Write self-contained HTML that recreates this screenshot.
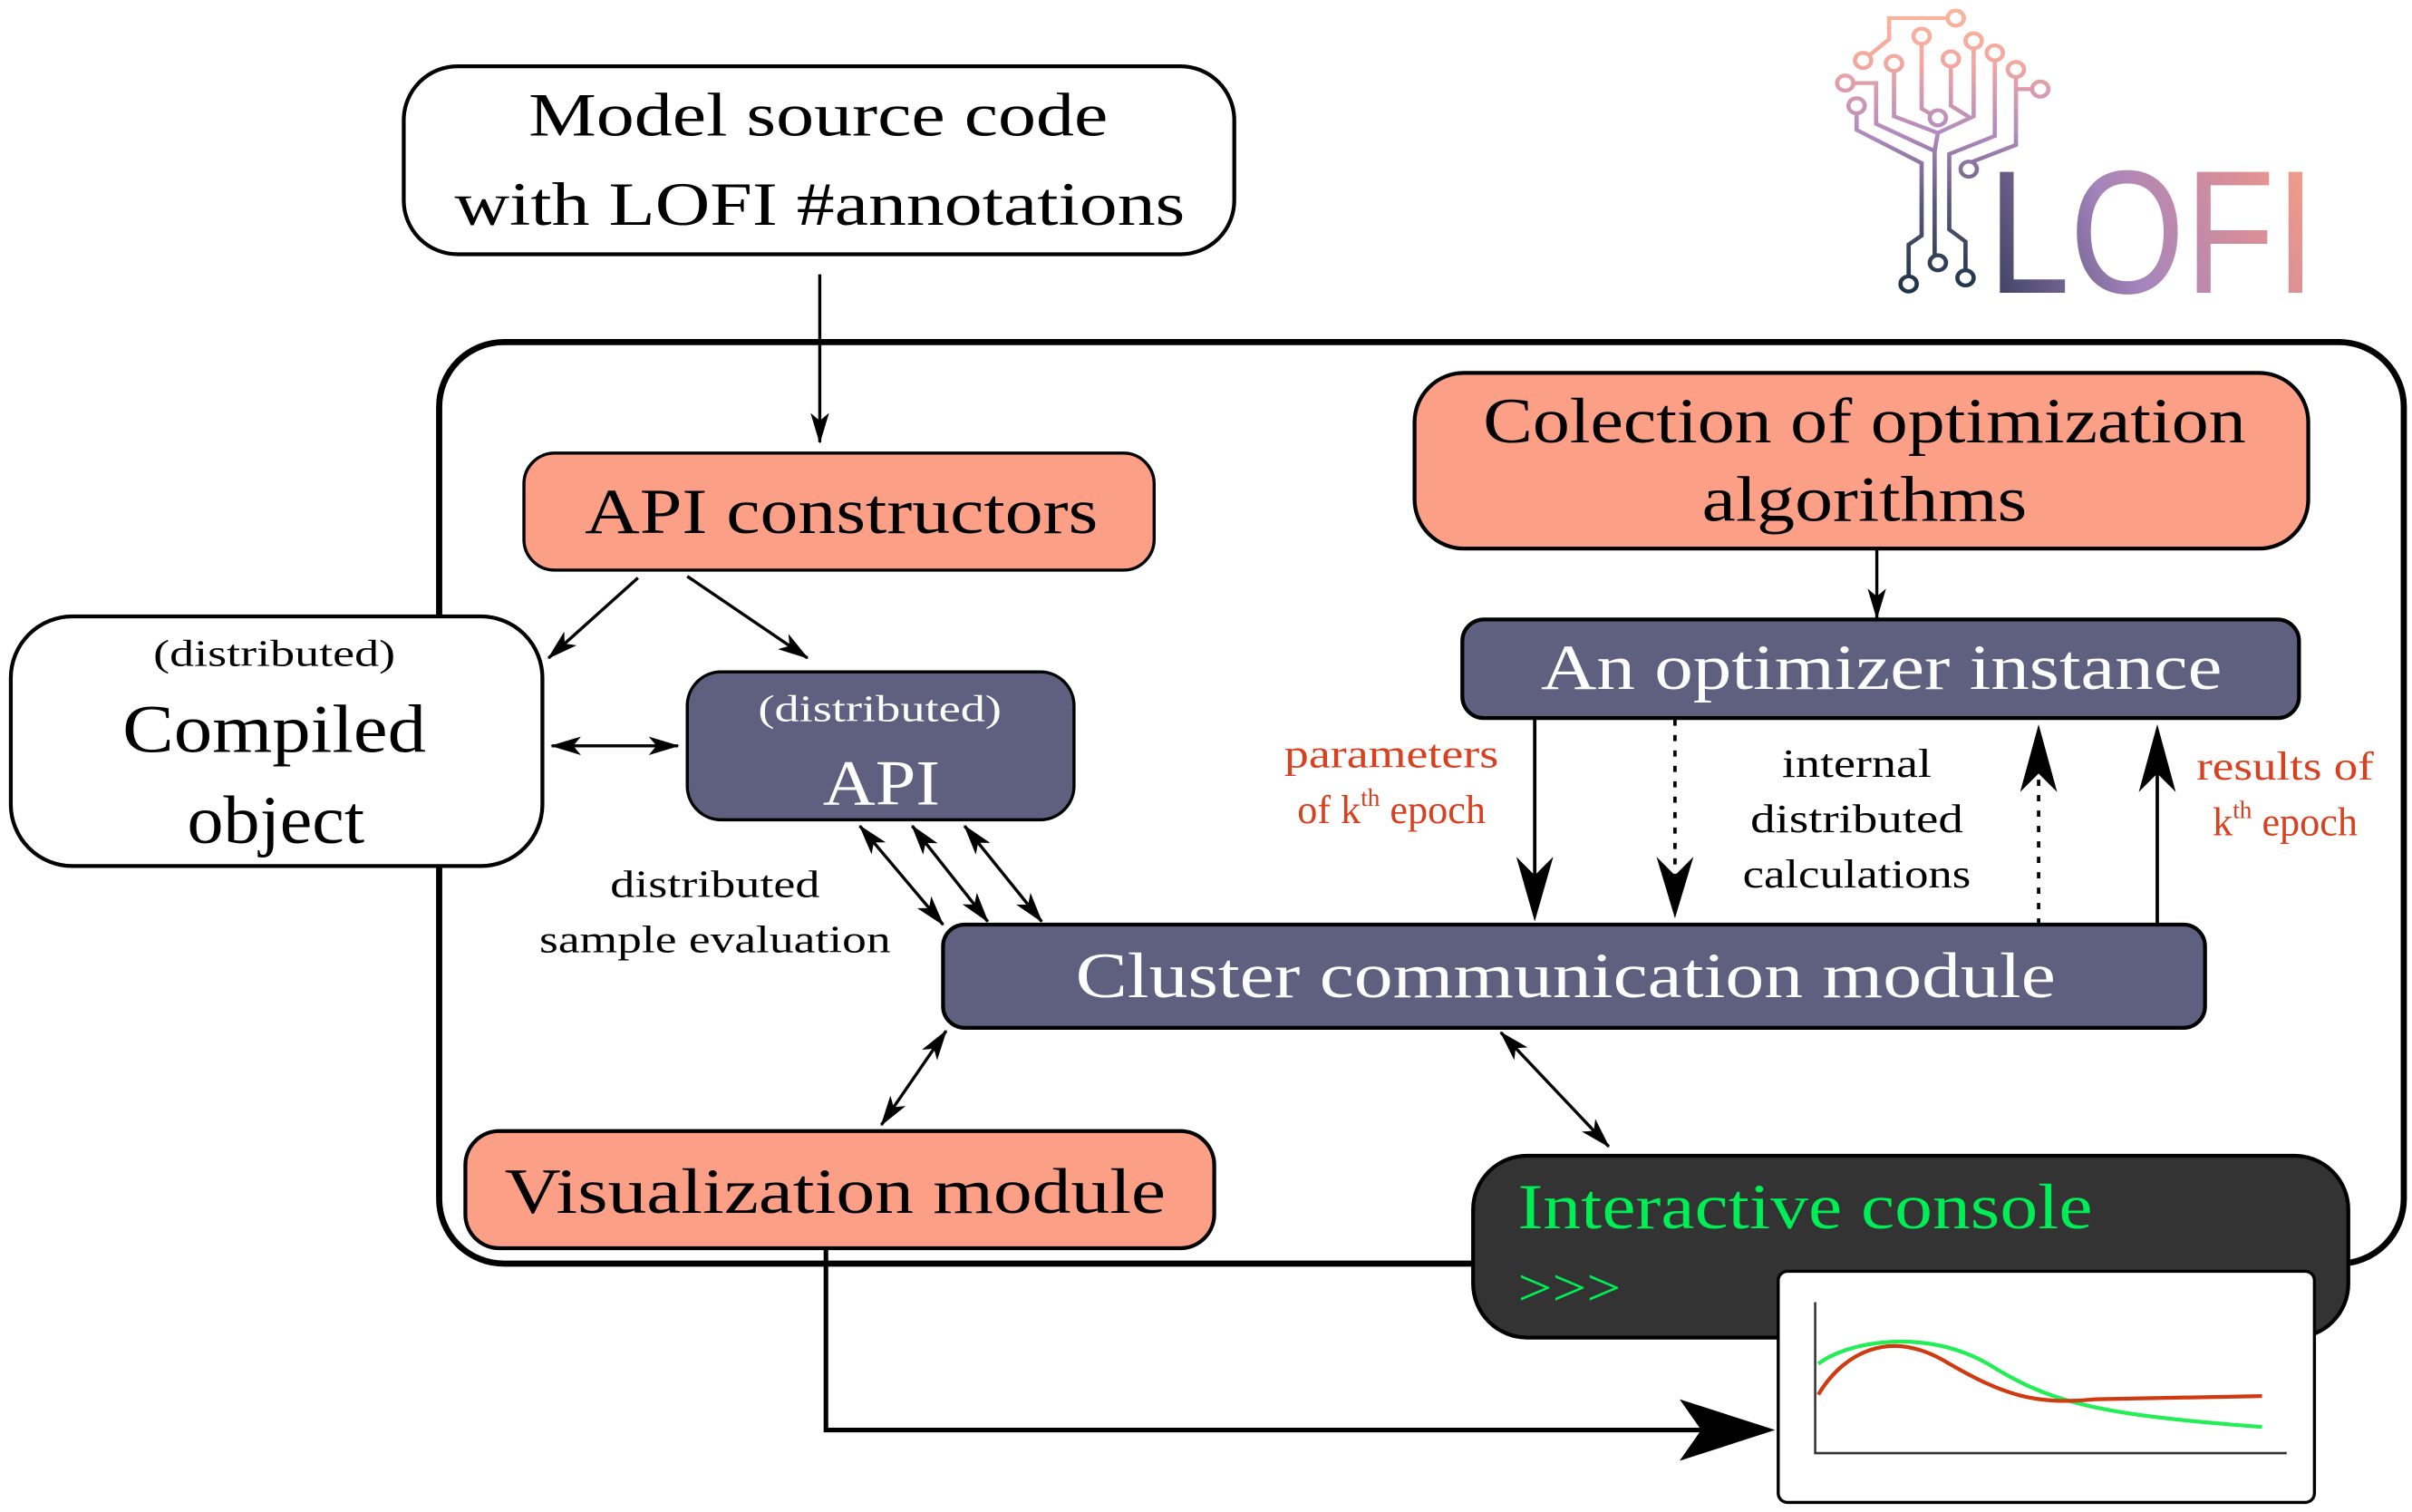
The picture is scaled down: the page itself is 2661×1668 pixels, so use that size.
<!DOCTYPE html>
<html><head><meta charset="utf-8">
<style>html,body{margin:0;padding:0;background:#fff;}svg{display:block;}</style>
</head><body>
<svg width="2661" height="1668" viewBox="0 0 1565.3 981.2" xmlns="http://www.w3.org/2000/svg" font-family="'Liberation Serif', serif">
<defs>
<marker id="a" viewBox="0 0 20 12" refX="19" refY="6" markerWidth="20" markerHeight="12" markerUnits="userSpaceOnUse" orient="auto-start-reverse">
<path d="M0,0 L20,6 L0,12 L5,6 z" fill="#000"/></marker>
<linearGradient id="tg" x1="0" y1="950" x2="0" y2="30" gradientUnits="userSpaceOnUse">
<stop offset="0" stop-color="#1f3447"/><stop offset="0.3" stop-color="#5c5878"/><stop offset="0.55" stop-color="#b08ac0"/><stop offset="0.8" stop-color="#f2a7a0"/><stop offset="1" stop-color="#fbb59c"/></linearGradient>
<linearGradient id="lg" x1="1290" y1="190" x2="1505" y2="100" gradientUnits="userSpaceOnUse">
<stop offset="0" stop-color="#3a3e5e"/><stop offset="0.4" stop-color="#a585bd"/><stop offset="0.75" stop-color="#d88e98"/><stop offset="1" stop-color="#f9a085"/></linearGradient>
</defs>

<g transform="translate(1188,0) scale(0.211,0.196)" fill="none" stroke="url(#tg)" stroke-width="13">
<polyline points="385,60 180,60 180,130 100,200"/>
<polyline points="45,275 140,275 140,410 320,500 320,870"/>
<polyline points="80,350 80,430 280,540 280,780 240,810 240,940"/>
<polyline points="195,210 195,385 330,440"/>
<polyline points="280,120 280,360 330,390"/>
<polyline points="370,195 370,350 430,390 330,440 320,500"/>
<polyline points="440,135 440,390"/>
<polyline points="505,175 505,450 365,510 365,760 415,800 415,920"/>
<polyline points="570,230 570,480 425,540 425,560"/>
<polyline points="645,295 570,295"/>
<g fill="#fff">
<circle cx="385" cy="60" r="25"/><circle cx="280" cy="120" r="25"/><circle cx="440" cy="135" r="25"/>
<circle cx="100" cy="200" r="25"/><circle cx="195" cy="210" r="25"/><circle cx="370" cy="195" r="25"/>
<circle cx="505" cy="175" r="25"/><circle cx="570" cy="230" r="25"/><circle cx="45" cy="275" r="25"/>
<circle cx="645" cy="295" r="25"/><circle cx="80" cy="350" r="25"/><circle cx="330" cy="390" r="25"/>
<circle cx="425" cy="560" r="25"/><circle cx="240" cy="940" r="25"/><circle cx="330" cy="870" r="25"/><circle cx="415" cy="920" r="25"/>
</g></g>
<text x="1290" y="190" font-family="'Liberation Sans', sans-serif" font-size="114" fill="url(#lg)" textLength="213" lengthAdjust="spacingAndGlyphs">LOFI</text>

<rect x="262" y="43" width="539" height="122" rx="35" fill="#fff" stroke="#000" stroke-width="2.5"/>
<text x="531" y="88" font-size="40" text-anchor="middle" textLength="376" lengthAdjust="spacingAndGlyphs">Model source code</text>
<text x="532" y="146" font-size="40" text-anchor="middle" textLength="474" lengthAdjust="spacingAndGlyphs">with LOFI #annotations</text>

<rect x="285" y="222" width="1275" height="598" rx="42" fill="none" stroke="#000" stroke-width="4"/>
<line x1="532" y1="178" x2="532" y2="287" stroke="#000" stroke-width="2" marker-end="url(#a)"/>

<rect x="340" y="294" width="409" height="76" rx="20" fill="#fc9f87" stroke="#000" stroke-width="2"/>
<text x="546" y="346" font-size="42" text-anchor="middle" textLength="333" lengthAdjust="spacingAndGlyphs">API constructors</text>

<rect x="7" y="400" width="345" height="162" rx="40" fill="#fff" stroke="#000" stroke-width="2.5"/>
<text x="178" y="432" font-size="24" text-anchor="middle" textLength="157" lengthAdjust="spacingAndGlyphs">(distributed)</text>
<text x="178" y="488" font-size="44" text-anchor="middle" textLength="197" lengthAdjust="spacingAndGlyphs">Compiled</text>
<text x="179" y="547" font-size="44" text-anchor="middle" textLength="115" lengthAdjust="spacingAndGlyphs">object</text>

<rect x="446" y="436" width="251" height="96" rx="22" fill="#5f6080" stroke="#000" stroke-width="2"/>
<text x="571" y="468" font-size="24" fill="#fff" text-anchor="middle" textLength="158" lengthAdjust="spacingAndGlyphs">(distributed)</text>
<text x="572" y="522" font-size="42" fill="#fff" text-anchor="middle" textLength="76" lengthAdjust="spacingAndGlyphs">API</text>

<g stroke="#000" stroke-width="2" fill="none">
<line x1="414" y1="375" x2="356" y2="427" marker-end="url(#a)"/>
<line x1="446" y1="374" x2="524" y2="427" marker-end="url(#a)"/>
<line x1="358" y1="484" x2="440" y2="484" marker-start="url(#a)" marker-end="url(#a)"/>
<line x1="558" y1="536" x2="612" y2="600" marker-start="url(#a)" marker-end="url(#a)"/>
<line x1="592" y1="536" x2="641" y2="598" marker-start="url(#a)" marker-end="url(#a)"/>
<line x1="626" y1="536" x2="676" y2="598" marker-start="url(#a)" marker-end="url(#a)"/>
<line x1="614" y1="669" x2="572" y2="730" marker-start="url(#a)" marker-end="url(#a)"/>
<line x1="974" y1="670" x2="1044" y2="744" marker-start="url(#a)" marker-end="url(#a)"/>
<line x1="1218" y1="356" x2="1218" y2="401" marker-end="url(#a)"/>
</g>
<text x="464" y="582" font-size="25" text-anchor="middle" textLength="136" lengthAdjust="spacingAndGlyphs">distributed</text>
<text x="464" y="618" font-size="25" text-anchor="middle" textLength="228" lengthAdjust="spacingAndGlyphs">sample evaluation</text>

<rect x="918" y="242" width="580" height="114" rx="32" fill="#fc9f87" stroke="#000" stroke-width="2.5"/>
<text x="1210" y="287" font-size="42" text-anchor="middle" textLength="495" lengthAdjust="spacingAndGlyphs">Colection of optimization</text>
<text x="1210" y="338" font-size="42" text-anchor="middle" textLength="211" lengthAdjust="spacingAndGlyphs">algorithms</text>

<rect x="949" y="402" width="543" height="64" rx="14" fill="#5f6080" stroke="#000" stroke-width="2.5"/>
<text x="1221" y="447" font-size="42" fill="#fff" text-anchor="middle" textLength="442" lengthAdjust="spacingAndGlyphs">An optimizer instance</text>

<g stroke="#000" stroke-width="2.2">
<line x1="996" y1="467" x2="996" y2="570"/>
<line x1="1087" y1="467" x2="1087" y2="570" stroke-dasharray="4,6"/>
<line x1="1323" y1="600" x2="1323" y2="500" stroke-dasharray="4,6"/>
<line x1="1400" y1="600" x2="1400" y2="500"/>
</g>
<g fill="#000">
<path d="M984,556 L996,598 L1008,556 L996,568 z"/>
<path d="M1075,556 L1087,596 L1099,556 L1087,568 z"/>
<path d="M1311,514 L1323,470 L1335,514 L1323,502 z"/>
<path d="M1388,514 L1400,470 L1412,514 L1400,502 z"/>
</g>
<g font-size="26" fill="#d9401f" text-anchor="middle">
<text x="903" y="498" textLength="139" lengthAdjust="spacingAndGlyphs">parameters</text>
<text x="903" y="534">of k<tspan font-size="16" dy="-11">th</tspan><tspan dy="11"> epoch</tspan></text>
<text x="1483" y="506" textLength="115" lengthAdjust="spacingAndGlyphs">results of</text>
<text x="1483" y="542">k<tspan font-size="16" dy="-11">th</tspan><tspan dy="11"> epoch</tspan></text>
</g>
<g font-size="26" text-anchor="middle">
<text x="1205" y="504" textLength="97" lengthAdjust="spacingAndGlyphs">internal</text>
<text x="1205" y="540" textLength="138" lengthAdjust="spacingAndGlyphs">distributed</text>
<text x="1205" y="576" textLength="148" lengthAdjust="spacingAndGlyphs">calculations</text>
</g>

<rect x="612" y="600" width="819" height="67" rx="14" fill="#5f6080" stroke="#000" stroke-width="2.5"/>
<text x="1016" y="647" font-size="42" fill="#fff" text-anchor="middle" textLength="636" lengthAdjust="spacingAndGlyphs">Cluster communication module</text>

<rect x="302" y="734" width="486" height="76" rx="22" fill="#fc9f87" stroke="#000" stroke-width="2.5"/>
<text x="542" y="787" font-size="42" text-anchor="middle" textLength="429" lengthAdjust="spacingAndGlyphs">Visualization module</text>

<rect x="956" y="750" width="568" height="118" rx="35" fill="#333" stroke="#000" stroke-width="2.5"/>
<text x="985" y="797" font-size="42" fill="#00ee55" textLength="373" lengthAdjust="spacingAndGlyphs">Interactive console</text>
<text x="985" y="847" font-size="34" fill="#00ee55" textLength="67" lengthAdjust="spacingAndGlyphs">&gt;&gt;&gt;</text>

<rect x="1154" y="825" width="348" height="150" rx="6" fill="#fff" stroke="#000" stroke-width="2"/>
<polyline points="1178,845 1178,943 1484,943" fill="none" stroke="#333" stroke-width="1.5"/>
<path d="M1180,885 C1200,870 1250,862 1290,885 C1330,910 1360,918 1468,926" fill="none" stroke="#22ee55" stroke-width="2.5"/>
<path d="M1180,905 C1195,880 1225,860 1265,885 C1300,905 1320,912 1360,908 L1468,906" fill="none" stroke="#d03a10" stroke-width="2.5"/>

<polyline points="536,810 536,928 1110,928" fill="none" stroke="#000" stroke-width="3"/>
<path d="M1090,908 L1152,928 L1090,948 L1104,928 z" fill="#000"/>
</svg>
</body></html>
